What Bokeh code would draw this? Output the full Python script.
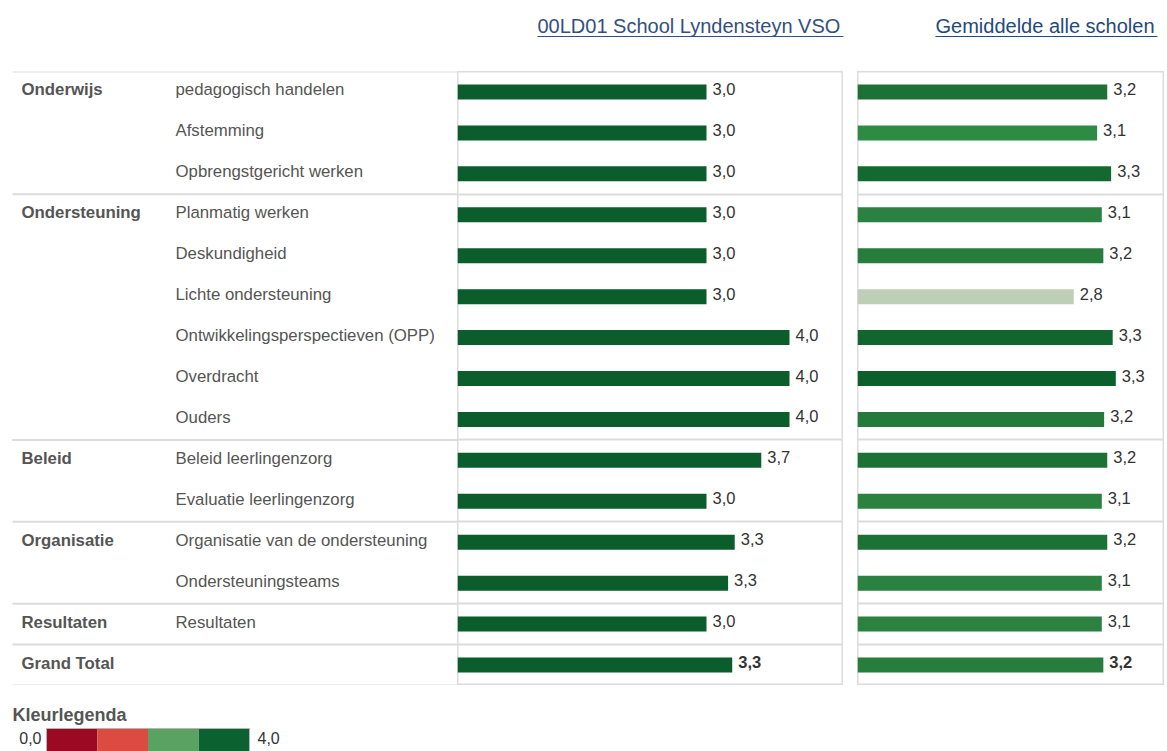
from bokeh.plotting import figure
from bokeh.layouts import column, row
from bokeh.models import Range1d, ColumnDataSource, Spacer
from bokeh.transform import linear_cmap
from bokeh.core.properties import value
from bokeh.embed import file_html
from bokeh.resources import INLINE
import numpy as np

# ---------------- data ----------------
titles = ["00LD01 School Lyndensteyn VSO", "Gemiddelde alle scholen"]
groups = ["Onderwijs", "Onderwijs", "Onderwijs",
          "Ondersteuning", "Ondersteuning", "Ondersteuning", "Ondersteuning", "Ondersteuning", "Ondersteuning",
          "Beleid", "Beleid", "Organisatie", "Organisatie", "Resultaten", "Grand Total"]
items = ["pedagogisch handelen", "Afstemming", "Opbrengstgericht werken",
         "Planmatig werken", "Deskundigheid", "Lichte ondersteuning",
         "Ontwikkelingsperspectieven (OPP)", "Overdracht", "Ouders",
         "Beleid leerlingenzorg", "Evaluatie leerlingenzorg",
         "Organisatie van de ondersteuning", "Ondersteuningsteams",
         "Resultaten", ""]
school = [3.0, 3.0, 3.0, 3.0, 3.0, 3.0, 4.0, 4.0, 4.0, 3.66, 3.0, 3.34, 3.26, 3.0, 3.31]
average = [3.21, 3.08, 3.26, 3.14, 3.16, 2.78, 3.28, 3.32, 3.17, 3.21, 3.14, 3.21, 3.14, 3.14, 3.16]
legend_title = "Kleurlegenda"
legend_min, legend_max = 0.0, 4.0
legend_colors = ["#9b0a22", "#dc4b41", "#5aa262", "#0b6130"]

# ---------------- styles ----------------
FONT = "Liberation Sans, Arial, sans-serif"
GRID = "#dcdcdc"
LABEL_COL = "#555555"
VAL_COL = "#333333"
DARK = "#0b5e2b"

def fmt(v):
    return f"{v:.1f}".replace(".", ",")

n = len(items)
rows_y = [i + 0.5 for i in range(n)]
bounds = [i for i in range(1, n) if groups[i] != groups[i - 1]]
is_total = [g == "Grand Total" for g in groups]

TOTAL_W = 1167
W_LAB, W_LEFT, W_GAP, W_RIGHT = 457, 386, 14, 307
H_HEAD, H_TAB, H_LEG = 71, 614, 66
PX_LEFT, PX_RIGHT = 83.0, 77.8
BAR_H = 15 / (H_TAB / n)

def base_fig(w, h, xr, yr):
    p = figure(width=w, height=h, x_range=xr, y_range=yr, output_backend="svg",
               toolbar_location=None, min_border=0, tools="")
    p.axis.visible = False
    p.grid.visible = False
    p.outline_line_color = None
    p.background_fill_color = "white"
    p.border_fill_color = "white"
    return p

# ---------- header ----------
head = base_fig(TOTAL_W, H_HEAD, Range1d(0, TOTAL_W), Range1d(H_HEAD, 0))
title_x = [537, 935]
title_cols = ["#34507e", "#1f4a7c"]
title_w = [306, 222]
head.text(x=title_x, y=[25, 25], text=titles, text_font=value(FONT),
          text_font_size="20px", text_baseline="middle", text_color=title_cols)
head.segment(x0=title_x, x1=[a + b for a, b in zip(title_x, title_w)], y0=[36, 36], y1=[36, 36],
             line_color=title_cols, line_width=1)

# ---------- labels ----------
lab = base_fig(W_LAB, H_TAB, Range1d(0, W_LAB), Range1d(n, 0))
hl = [0] + bounds + [n]
lab.segment(x0=[12] * len(hl), x1=[W_LAB] * len(hl), y0=hl, y1=hl, line_color=GRID, line_width=2)
first_idx = [i for i in range(n) if i == 0 or groups[i] != groups[i - 1]]
lab.text(x=[21] * len(first_idx), y=[rows_y[i] for i in first_idx], text=[groups[i] for i in first_idx],
         text_font=value(FONT), text_font_size="16.8px", text_font_style="bold",
         text_color=LABEL_COL, text_baseline="middle", y_offset=-2)
lab.text(x=[175] * n, y=rows_y, text=items, text_font=value(FONT), text_font_size="16.8px",
         text_color=LABEL_COL, text_baseline="middle", y_offset=-2)

# ---------- bar panels ----------
def bar_panel(w, px, vals, color):
    p = base_fig(w, H_TAB, Range1d(0, w / px), Range1d(n, 0))
    p.outline_line_color = GRID
    p.outline_line_width = 2
    p.hspan(y=bounds, line_color=GRID, line_width=2)
    src = ColumnDataSource(dict(y=rows_y, v=vals))
    p.hbar(y="y", left=0, right="v", height=BAR_H, source=src, fill_color=color, line_color=None)
    norm = ColumnDataSource(dict(y=[rows_y[i] for i in range(n) if not is_total[i]],
                                 v=[vals[i] for i in range(n) if not is_total[i]],
                                 lab=[fmt(vals[i]) for i in range(n) if not is_total[i]]))
    tot = ColumnDataSource(dict(y=[rows_y[i] for i in range(n) if is_total[i]],
                                v=[vals[i] for i in range(n) if is_total[i]],
                                lab=[fmt(vals[i]) for i in range(n) if is_total[i]]))
    for s, st in ((norm, "normal"), (tot, "bold")):
        p.text(x="v", y="y", text="lab", source=s, x_offset=6, y_offset=-3,
               text_font=value(FONT), text_font_size="16.5px", text_font_style=st,
               text_color=VAL_COL, text_baseline="middle")
    return p

left = bar_panel(W_LEFT, PX_LEFT, school, DARK)

anchors_v = [2.60, 2.78, 2.95, 3.08, 3.14, 3.20, 3.26, 3.32]
anchors_c = ["#dfe5dc", "#bdcfb6", "#6aa878", "#2e8b44", "#2a8240", "#1e7336", "#136a30", "#0b5f2b"]
def hex2rgb(h):
    return np.array([int(h[i:i + 2], 16) for i in (1, 3, 5)], dtype=float)
grid_v = np.linspace(anchors_v[0], anchors_v[-1], 256)
rgb = np.array([hex2rgb(c) for c in anchors_c])
pal = []
for gv in grid_v:
    c = [np.interp(gv, anchors_v, rgb[:, k]) for k in range(3)]
    pal.append("#%02x%02x%02x" % tuple(int(round(x)) for x in c))
right = bar_panel(W_RIGHT, PX_RIGHT, average,
                  linear_cmap("v", pal, anchors_v[0], anchors_v[-1]))

gap = Spacer(width=W_GAP, height=H_TAB)

# ---------- legend ----------
leg = base_fig(TOTAL_W, H_LEG, Range1d(0, TOTAL_W), Range1d(H_LEG, 0))
unit = 50.75
x0 = 46
leg.extra_x_ranges = {"leg": Range1d(-x0 / unit, (TOTAL_W - x0) / unit)}
leg.text(x=[12], y=[29], text=[legend_title], text_font=value(FONT), text_font_size="18px",
         text_font_style="bold", text_color=LABEL_COL, text_baseline="middle")
k = len(legend_colors)
step = (legend_max - legend_min) / k
lefts = [legend_min + i * step for i in range(k)]
leg.quad(left=lefts, right=[l + step for l in lefts], top=[43] * k, bottom=[70] * k,
         fill_color=legend_colors, line_color=None, x_range_name="leg")
leg.quad(left=[legend_min], right=[legend_max], top=[43], bottom=[70], fill_color=None,
         line_color="#b5b5b5", line_width=1, x_range_name="leg")
leg.text(x=[legend_min], y=[52], text=[fmt(legend_min)], x_offset=-5, text_align="right",
         text_font=value(FONT), text_font_size="16px", text_color=VAL_COL,
         text_baseline="middle", x_range_name="leg")
leg.text(x=[legend_max], y=[52], text=[fmt(legend_max)], x_offset=8, text_align="left",
         text_font=value(FONT), text_font_size="16px", text_color=VAL_COL,
         text_baseline="middle", x_range_name="leg")

layout = column(head, row(lab, left, gap, right), leg)
open("out.html", "w").write(file_html(layout, INLINE))
